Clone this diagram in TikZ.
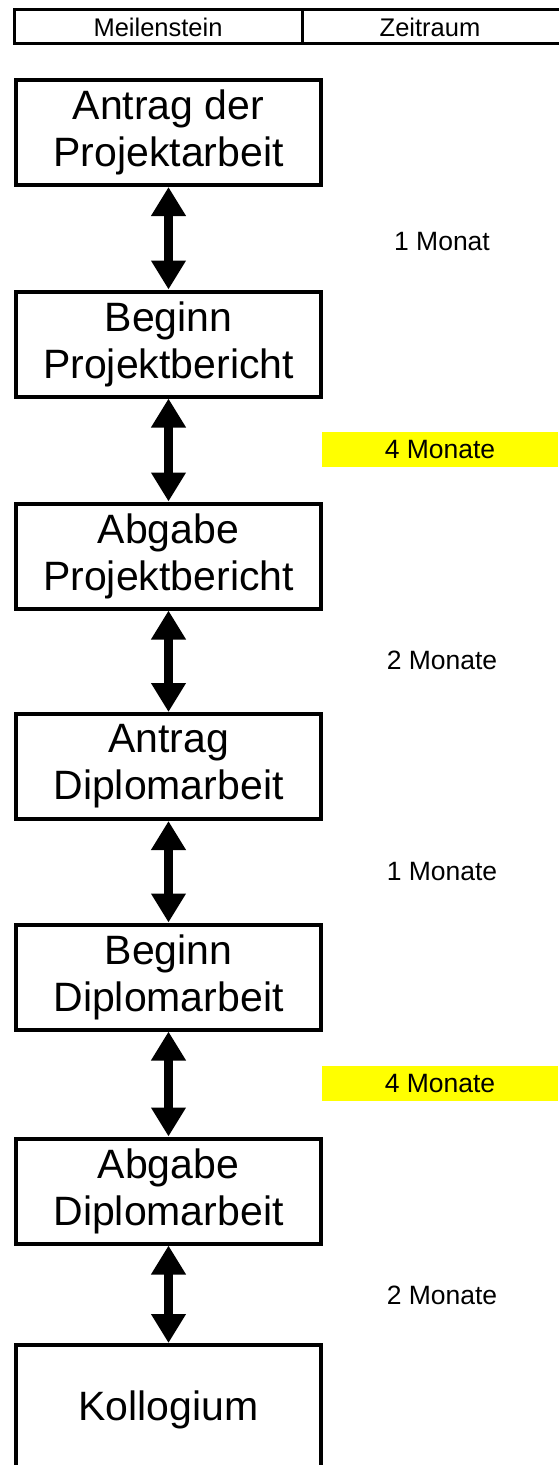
\documentclass[tikz,border=0pt]{standalone}
\usepackage{fontspec}
\setmainfont{Liberation Sans}
\usetikzlibrary{arrows.meta}
\definecolor{hl}{RGB}{255,255,0}
\tikzset{
  ms/.style={draw=black, line width=4pt, minimum width=305pt, minimum height=105pt, inner sep=0pt, align=center, font=\fontsize{41}{47}\selectfont},
  dur/.style={font=\fontsize{26.5}{30}\selectfont, inner sep=0pt},
  hdr/.style={font=\fontsize{25.5}{28}\selectfont, inner sep=0pt},
  dbl/.style={line width=9.5pt, {Triangle[width=33pt,length=29pt]}-{Triangle[width=33pt,length=29pt]}},
  hlbox/.style={fill=hl, draw=none, minimum width=236pt, minimum height=35pt, inner sep=0pt, font=\fontsize{26.5}{30}\selectfont}
}
\begin{document}
\begin{tikzpicture}[x=1pt,y=-1pt]
\useasboundingbox (0,0) rectangle (558,1465);
\fill[white] (0,0) rectangle (558,1465);
% header
\draw[line width=3pt] (14,9.5) rectangle (560,43);
\draw[line width=3pt] (302,9.5) -- (302,43);
\node[hdr] (h1) at (158,27) {Meilenstein};
\node[hdr] (h2) at (430,27) {Zeitraum};
% milestones
\node[ms] (b1) at (168.5,132.5) {Antrag der\\Projektarbeit};
\node[ms] (b2) at (168.5,344) {Beginn\\Projektbericht};
\node[ms] (b3) at (168.5,556) {Abgabe\\Projektbericht};
\node[ms] (b4) at (168.5,766.5) {Antrag\\Diplomarbeit};
\node[ms] (b5) at (168.5,977) {Beginn\\Diplomarbeit};
\node[ms] (b6) at (168.5,1191) {Abgabe\\Diplomarbeit};
\node[ms, minimum height=140pt] (b7) at (168.5,1415) {};
\node[font=\fontsize{41}{47}\selectfont, inner sep=0pt] (k) at (168.5,1410) {Kollogium};
% arrows
\draw[dbl] (b1.south) -- (b2.north);
\draw[dbl] (b2.south) -- (b3.north);
\draw[dbl] (b3.south) -- (b4.north);
\draw[dbl] (b4.south) -- (b5.north);
\draw[dbl] (b5.south) -- (b6.north);
\draw[dbl] (b6.south) -- (b7.north);
% durations
\node[dur] (d1) at (442,242) {1 Monat};
\node[hlbox] (d2) at (440,449.5) {4 Monate};
\node[dur] (d3) at (442,660) {2 Monate};
\node[dur] (d4) at (442,872) {1 Monate};
\node[hlbox] (d5) at (440,1083) {4 Monate};
\node[dur] (d6) at (442,1295) {2 Monate};
\end{tikzpicture}
\end{document}
